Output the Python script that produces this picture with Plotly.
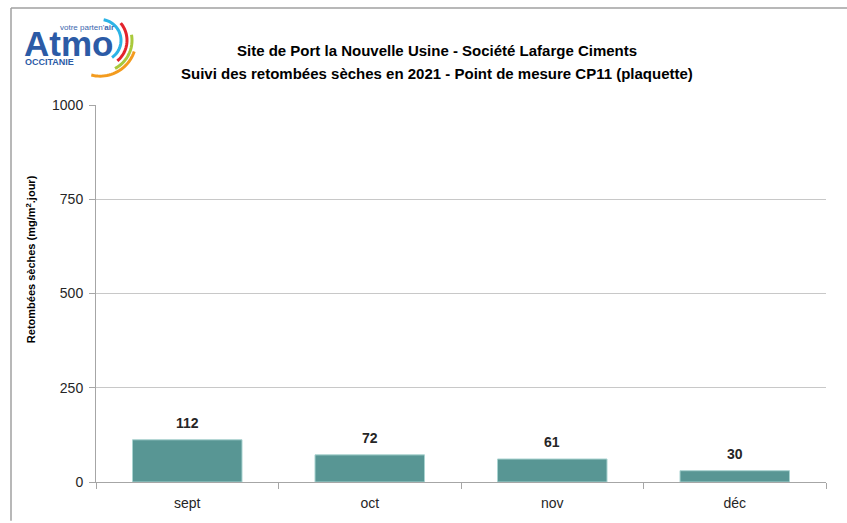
import math
import plotly.graph_objects as go

months = ["sept", "oct", "nov", "déc"]
values = [112, 72, 61, 30]
y_ticks = [0, 250, 500, 750, 1000]
title_line1 = "Site de Port la Nouvelle Usine - Société Lafarge Ciments"
title_line2 = "Suivi des retombées sèches en 2021 - Point de mesure CP11 (plaquette)"
y_title = "Retombées sèches (mg/m<sup>2</sup>.jour)"

W, H = 847, 523
L, R, T, B = 96, 826, 105, 484
FONT = "Liberation Sans, Arial"

def px(x):
    return (x - L) / (R - L)

def py(y):
    return (B - y) / (B - T)

fig = go.Figure()
fig.add_trace(go.Bar(
    x=months, y=values,
    marker=dict(color="#589694", line=dict(color="#a9d3d0", width=1)),
    width=0.6,
    hoverinfo="x+y",
))

shapes = []
# outer frame lines (top and left)
shapes.append(dict(type="line", xref="paper", yref="paper",
                   x0=px(11), x1=px(847), y0=py(7.5), y1=py(7.5),
                   line=dict(color="#a0a0a0", width=1.5)))
shapes.append(dict(type="line", xref="paper", yref="paper",
                   x0=px(11), x1=px(11), y0=py(7.5), y1=py(523),
                   line=dict(color="#a0a0a0", width=1.5)))

# logo arcs
cx, cy = 100, 40
arcs = [(21, 80, -55, "#2bb3e6"), (27, 40, -50, "#e3232c"),
        (32, 10, -62, "#a9c93b"), (36, -18, -104, "#f39b1e")]
for r, a0, a1, col in arcs:
    pts = []
    n = 24
    for i in range(n + 1):
        a = math.radians(a0 + (a1 - a0) * i / n)
        pts.append((px(cx + r * math.cos(a)), py(cy - r * math.sin(a))))
    path = "M " + " L ".join(f"{x:.5f},{y:.5f}" for x, y in pts)
    shapes.append(dict(type="path", xref="paper", yref="paper", path=path,
                       line=dict(color=col, width=3)))

annotations = [
    dict(text=f"<b>{title_line1}</b>", x=px(437), y=py(50), xref="paper", yref="paper",
         showarrow=False, xanchor="center", yanchor="middle",
         font=dict(family=FONT, size=15, color="#000")),
    dict(text=f"<b>{title_line2}</b>", x=px(437), y=py(73), xref="paper", yref="paper",
         showarrow=False, xanchor="center", yanchor="middle",
         font=dict(family=FONT, size=15, color="#000")),
    dict(text=f"<b>{y_title}</b>", x=px(31), y=py(260), xref="paper", yref="paper",
         showarrow=False, textangle=-90, xanchor="center", yanchor="middle",
         font=dict(family=FONT, size=11, color="#000")),
    # logo texts
    dict(text="<b>Atmo</b>", x=px(23), y=py(43), xref="paper", yref="paper",
         showarrow=False, xanchor="left", yanchor="middle", borderpad=0,
         font=dict(family=FONT, size=35, color="#2c5ba6")),
    dict(text="votre parten'<b>air</b>", x=px(59), y=py(27), xref="paper", yref="paper",
         showarrow=False, xanchor="left", yanchor="middle", borderpad=0,
         font=dict(family=FONT, size=8, color="#3a66ad")),
    dict(text="<b>OCCITANIE</b>", x=px(24), y=py(62), xref="paper", yref="paper",
         showarrow=False, xanchor="left", yanchor="middle", borderpad=0,
         font=dict(family=FONT, size=9, color="#2c5ba6")),
]

# data labels above bars
for m, v in zip(months, values):
    annotations.append(dict(
        text=f"<b>{v}</b>", x=m, y=v, xref="x", yref="y",
        showarrow=False, xanchor="center", yanchor="bottom", yshift=7,
        font=dict(family=FONT, size=14, color="#262626"),
    ))

fig.update_layout(
    width=W, height=H,
    margin=dict(l=L, r=W - R, t=T, b=H - B),
    paper_bgcolor="white", plot_bgcolor="white",
    showlegend=False,
    bargap=0.4,
    shapes=shapes,
    annotations=annotations,
    font=dict(family=FONT, size=13, color="#262626"),
    xaxis=dict(
        type="category", tickson="boundaries", ticks="outside", ticklen=6,
        tickcolor="#a6a6a6", showline=True, linecolor="#a6a6a6", linewidth=1,
        showgrid=False, tickfont=dict(size=14, color="#262626"),
        ticklabelstandoff=8,
    ),
    yaxis=dict(
        range=[0, 1000], tickvals=y_ticks, ticks="outside", ticklen=6,
        tickcolor="#a6a6a6", showline=True, linecolor="#a6a6a6", linewidth=1,
        showgrid=True, gridcolor="#c8c8c8", gridwidth=1, zeroline=False,
        tickfont=dict(size=14, color="#262626"),
        ticklabelstandoff=3,
    ),
)

fig.write_html("out.html", config={"displayModeBar": False},
               post_script="document.body.style.margin='0';")
